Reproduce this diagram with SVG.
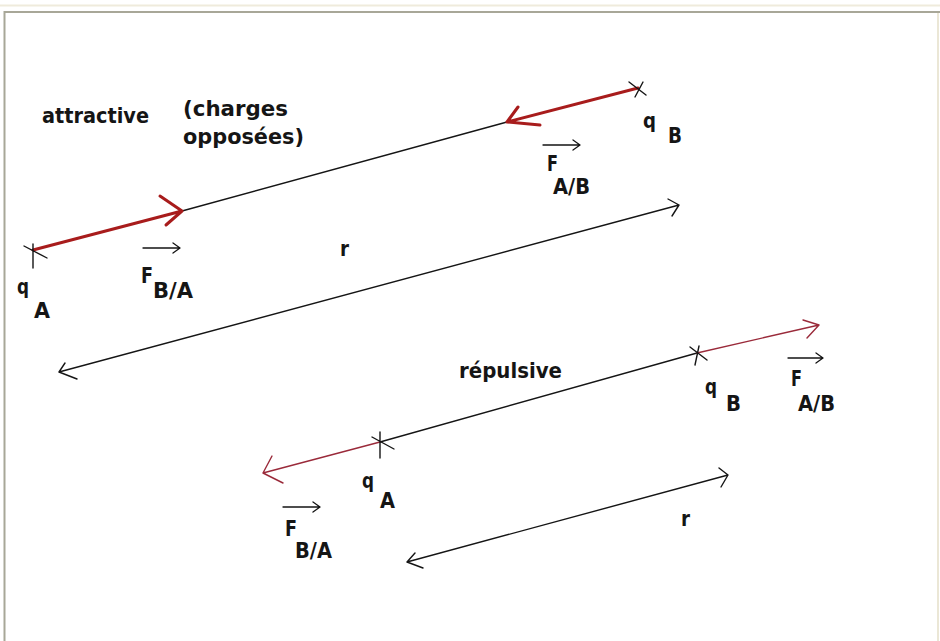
<svg xmlns="http://www.w3.org/2000/svg" width="940" height="641" viewBox="0 0 940 641">
<style>
.t{font-family:"DejaVu Sans","Liberation Sans",sans-serif;font-weight:bold;font-size:22px;fill:#151515}
.ln{stroke:#151515;stroke-width:1.4;fill:none;stroke-linecap:round;stroke-linejoin:round}
.rd{stroke:#a81c1c;stroke-width:3;fill:none;stroke-linecap:round;stroke-linejoin:round}
.rt{stroke:#9a2a3a;stroke-width:1.4;fill:none;stroke-linecap:round;stroke-linejoin:round}
.vec{stroke:#151515;stroke-width:1.3;fill:none;stroke-linecap:round;stroke-linejoin:round}
</style>
<rect x="0" y="0" width="940" height="641" fill="#ffffff"/>
<g id="frame">
<line x1="0" y1="5.5" x2="940" y2="5.5" stroke="#efebdc" stroke-width="2"/>
<line x1="4" y1="12" x2="940" y2="12" stroke="#a8a798" stroke-width="2.2"/>
<line x1="4.5" y1="11" x2="4.5" y2="641" stroke="#a8a798" stroke-width="2"/>
<line x1="938" y1="13" x2="938" y2="641" stroke="#ebe7d6" stroke-width="2"/>
</g>
<g id="connectors">
<line class="ln" x1="182" y1="211" x2="507" y2="122"/>
<path class="rd" d="M33,250 L182,211 M160,196 L182,211 L166,225"/>
<path class="rd" d="M638,88 L507,122 M518,107 L507,122 L540,125"/>
<path class="ln" d="M59,372 L679,205 M65,363 L59,372 L77,379 M668,199 L679,205 L672,216"/>
<line class="ln" x1="380" y1="442" x2="697" y2="353"/>
<path class="rt" d="M380,442 L263,473 M272,456 L263,473 L283,483"/>
<path class="rt" d="M697,353 L819,325 M803,320 L819,325 L807,338"/>
<path class="ln" d="M407,562 L728,475 M415,553 L407,562 L423,568 M719,468 L728,475 L721,487"/>
</g>
<g id="qA_top">
<path class="ln" d="M24,246 L47,258 M33,244 L33,268"/>
<text class="t" x="17" y="294" textLength="12" lengthAdjust="spacingAndGlyphs">q</text>
<text class="t" x="34" y="318" textLength="16" lengthAdjust="spacingAndGlyphs">A</text>
</g>
<g id="qB_top">
<path class="ln" d="M629,82 L646,95 M643,82 L635,97"/>
<text class="t" x="643" y="128" textLength="13" lengthAdjust="spacingAndGlyphs">q</text>
<text class="t" x="668" y="143" textLength="14" lengthAdjust="spacingAndGlyphs">B</text>
</g>
<g id="FBA_top">
<path class="vec" d="M143,248 L180,248 M173,243 L180,248 L173,253"/>
<text class="t" x="141" y="283" textLength="12" lengthAdjust="spacingAndGlyphs">F</text>
<text class="t" x="153" y="298" textLength="40" lengthAdjust="spacingAndGlyphs">B/A</text>
</g>
<g id="FAB_top">
<path class="vec" d="M543,145 L580,145 M573,140 L580,145 L573,150"/>
<text class="t" x="547" y="171" textLength="11" lengthAdjust="spacingAndGlyphs">F</text>
<text class="t" x="553" y="194" textLength="37" lengthAdjust="spacingAndGlyphs">A/B</text>
</g>
<g id="labels_top">
<text class="t" x="42" y="123" textLength="107" lengthAdjust="spacingAndGlyphs">attractive</text>
<text class="t" x="183" y="116" textLength="105" lengthAdjust="spacingAndGlyphs">(charges</text>
<text class="t" x="183" y="144" textLength="121" lengthAdjust="spacingAndGlyphs">opposées)</text>
<text class="t" x="340" y="256" textLength="9" lengthAdjust="spacingAndGlyphs">r</text>
</g>
<g id="qA_bottom">
<path class="ln" d="M380,432 L380,458 M372,437 L394,449"/>
<text class="t" x="362" y="488" textLength="12" lengthAdjust="spacingAndGlyphs">q</text>
<text class="t" x="380" y="508" textLength="15" lengthAdjust="spacingAndGlyphs">A</text>
</g>
<g id="qB_bottom">
<path class="ln" d="M690,347 L707,360 M699,346 L695,365"/>
<text class="t" x="705" y="394" textLength="12" lengthAdjust="spacingAndGlyphs">q</text>
<text class="t" x="726" y="411" textLength="15" lengthAdjust="spacingAndGlyphs">B</text>
</g>
<g id="FAB_bottom">
<path class="vec" d="M788,358 L823,358 M816,353 L823,358 L816,363"/>
<text class="t" x="791" y="386" textLength="11" lengthAdjust="spacingAndGlyphs">F</text>
<text class="t" x="798" y="411" textLength="37" lengthAdjust="spacingAndGlyphs">A/B</text>
</g>
<g id="FBA_bottom">
<path class="vec" d="M283,507 L320,507 M313,502 L320,507 L313,512"/>
<text class="t" x="285" y="536" textLength="12" lengthAdjust="spacingAndGlyphs">F</text>
<text class="t" x="295" y="558" textLength="37" lengthAdjust="spacingAndGlyphs">B/A</text>
</g>
<g id="labels_bottom">
<text class="t" x="459" y="378" textLength="103" lengthAdjust="spacingAndGlyphs">répulsive</text>
<text class="t" x="681" y="526" textLength="9" lengthAdjust="spacingAndGlyphs">r</text>
</g>
</svg>
